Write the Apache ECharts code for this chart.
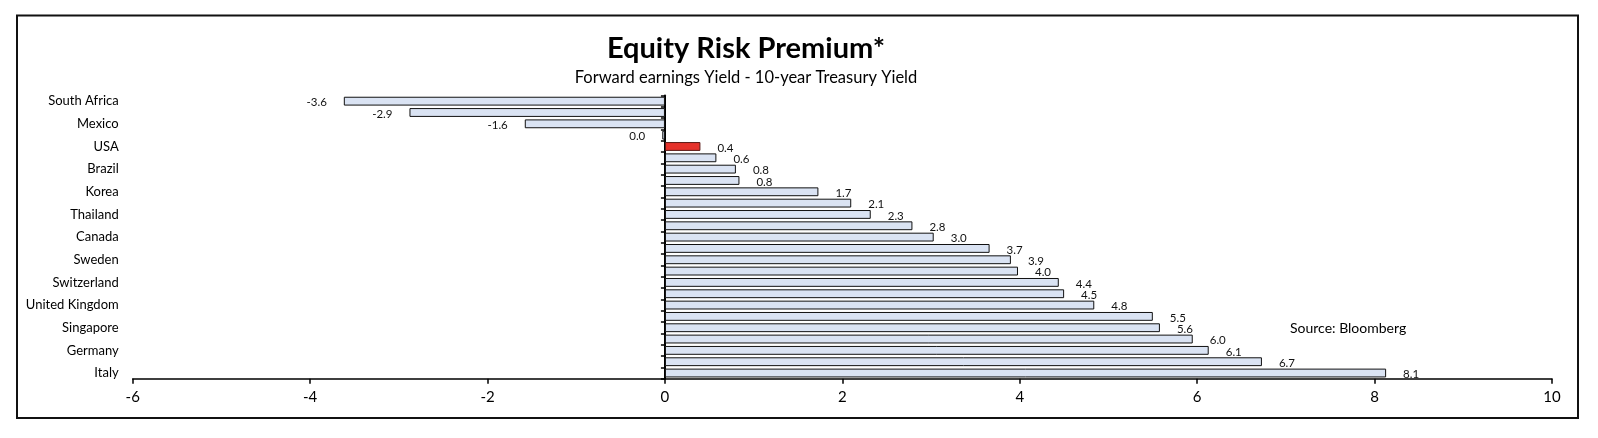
<!DOCTYPE html>
<html>
<head>
<meta charset="utf-8">
<script src="https://cdn.jsdelivr.net/npm/echarts@6/dist/echarts.min.js"></script>
<style>
    html, body { margin: 0; padding: 0; background: #fff; }
    #chart { width: 1598px; height: 438px; }
</style>
</head>
<body>
<div id="chart"></div>
<script>
// Data (top to bottom); only every other country is labelled on the axis
const countries = [
    'South Africa', '', 'Mexico', '', 'USA', '', 'Brazil', '', 'Korea', '',
    'Thailand', '', 'Canada', '', 'Sweden', '', 'Switzerland', '', 'United Kingdom', '',
    'Singapore', '', 'Germany', '', 'Italy'
];
const premium = [
    -3.62, -2.88, -1.58, -0.03, 0.4, 0.58, 0.8, 0.84, 1.73, 2.1, 2.32, 2.79, 3.03,
    3.66, 3.9, 3.98, 4.44, 4.5, 4.84, 5.5, 5.58, 5.95, 6.13, 6.73, 8.13
];
const highlight = 'USA';
const xTicks = { min: -6, max: 10, step: 2 };

const FONT = 'Lato, "Open Sans", sans-serif';

const chart = echarts.init(document.getElementById('chart'));

const barData = premium.map((v, i) => {
    const item = { value: v };
    if (countries[i] === highlight) {
        item.itemStyle = { color: '#e5322b', borderColor: '#5a1a16' };
    }
    return item;
});

chart.setOption({
    backgroundColor: '#fff',
    animation: false,
    title: [{
        text: 'Equity Risk Premium*',
        left: 741, top: 29, textAlign: 'center',
        textStyle: { fontFamily: FONT, fontSize: 29, fontWeight: 'bold', color: '#000' }
    }, {
        text: 'Forward earnings Yield - 10-year Treasury Yield',
        left: 741, top: 64, textAlign: 'center',
        textStyle: { fontFamily: FONT, fontSize: 16.5, fontWeight: 'normal', color: '#000' }
    }],
    graphic: [{
        type: 'rect',
        shape: { x: 17, y: 15.5, width: 1561, height: 402.5 },
        style: { fill: 'none', stroke: '#111', lineWidth: 2 }
    }, {
        type: 'text',
        left: 1290, top: 321,
        style: { text: 'Source: Bloomberg', fontFamily: FONT, fontSize: 14, fill: '#000' }
    }],
    grid: { left: 132.7, right: 46, top: 95.5, bottom: 59.3 },
    xAxis: {
        type: 'value',
        min: xTicks.min, max: xTicks.max, interval: xTicks.step,
        splitLine: { show: false },
        axisLine: { show: true, onZero: false, lineStyle: { color: '#000', width: 1.5 } },
        axisTick: { show: true, length: 5, lineStyle: { color: '#000', width: 1.5 } },
        axisLabel: { fontFamily: FONT, fontSize: 15, color: '#000', margin: 11 }
    },
    yAxis: [{
        // labels at the left edge of the plot
        type: 'category',
        data: countries,
        inverse: true,
        axisLine: { show: false, onZero: false },
        axisTick: { show: false },
        axisLabel: { interval: 0, fontFamily: FONT, fontSize: 13, color: '#000', margin: 14 }
    }, {
        // line and ticks on the zero value
        type: 'category',
        data: countries,
        inverse: true,
        position: 'left',
        axisLine: { show: true, onZero: true, lineStyle: { color: '#000', width: 2 } },
        axisTick: { show: true, interval: 0, length: 4, lineStyle: { color: '#000', width: 1.5 } },
        axisLabel: { show: false }
    }],
    series: [{
        type: 'bar',
        yAxisIndex: 0,
        data: barData,
        barCategoryGap: '22%',
        itemStyle: { color: '#dae3f3', borderColor: '#111', borderWidth: 1 },
        label: {
            show: true,
            position: 'outside',
            distance: 17,
            offset: [0, 1.5],
            fontFamily: FONT,
            fontSize: 11.5,
            color: '#111',
            formatter: p => p.value.toFixed(1).replace('-0.0', '0.0')
        }
    }]
});
</script>
</body>
</html>
